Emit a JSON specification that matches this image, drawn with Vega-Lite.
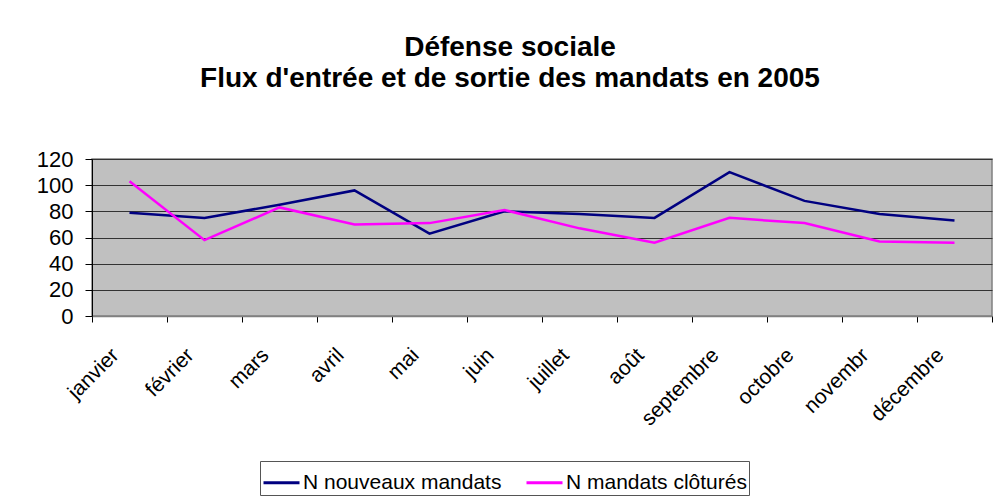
{
  "$schema": "https://vega.github.io/schema/vega-lite/v6.json",
  "width": 900,
  "height": 157,
  "autosize": {"type": "none"},
  "padding": {"left": 92, "top": 159, "right": 10, "bottom": 182},
  "background": "white",
  "title": {
    "text": ["Défense sociale", "Flux d'entrée et de sortie des mandats en 2005"],
    "font": "Liberation Sans",
    "fontSize": 28,
    "fontWeight": "bold",
    "color": "black",
    "lineHeight": 31,
    "anchor": "middle",
    "dx": -32,
    "offset": 55
  },
  "data": {
    "values": [
      {"mois": "janvier", "serie": "N nouveaux mandats", "n": 79},
      {"mois": "février", "serie": "N nouveaux mandats", "n": 75},
      {"mois": "mars", "serie": "N nouveaux mandats", "n": 85},
      {"mois": "avril", "serie": "N nouveaux mandats", "n": 96},
      {"mois": "mai", "serie": "N nouveaux mandats", "n": 63},
      {"mois": "juin", "serie": "N nouveaux mandats", "n": 80},
      {"mois": "juillet", "serie": "N nouveaux mandats", "n": 78},
      {"mois": "août", "serie": "N nouveaux mandats", "n": 75},
      {"mois": "septembre", "serie": "N nouveaux mandats", "n": 110},
      {"mois": "octobre", "serie": "N nouveaux mandats", "n": 88},
      {"mois": "novembr", "serie": "N nouveaux mandats", "n": 78},
      {"mois": "décembre", "serie": "N nouveaux mandats", "n": 73},
      {"mois": "janvier", "serie": "N mandats clôturés", "n": 103},
      {"mois": "février", "serie": "N mandats clôturés", "n": 58},
      {"mois": "mars", "serie": "N mandats clôturés", "n": 83},
      {"mois": "avril", "serie": "N mandats clôturés", "n": 70},
      {"mois": "mai", "serie": "N mandats clôturés", "n": 71},
      {"mois": "juin", "serie": "N mandats clôturés", "n": 81},
      {"mois": "juillet", "serie": "N mandats clôturés", "n": 67},
      {"mois": "août", "serie": "N mandats clôturés", "n": 56},
      {"mois": "septembre", "serie": "N mandats clôturés", "n": 75},
      {"mois": "octobre", "serie": "N mandats clôturés", "n": 71},
      {"mois": "novembr", "serie": "N mandats clôturés", "n": 57},
      {"mois": "décembre", "serie": "N mandats clôturés", "n": 56}
    ]
  },
  "mark": {"type": "line", "strokeWidth": 2.5},
  "encoding": {
    "x": {
      "field": "mois",
      "type": "ordinal",
      "sort": null,
      "bandPosition": 0.5,
      "scale": {"type": "band", "paddingInner": 0, "paddingOuter": 0},
      "axis": {
        "title": null,
        "tickBand": "extent",
        "labelAngle": -45,
        "labelFont": "Liberation Sans",
        "labelFontSize": 21,
        "labelColor": "black",
        "labelPadding": 22,
        "labelOffset": -22,
        "tickColor": "black",
        "tickSize": 6,
        "domainColor": "#808080",
        "domainWidth": 1.5,
        "grid": false
      }
    },
    "y": {
      "field": "n",
      "type": "quantitative",
      "scale": {"domain": [0, 120], "nice": false},
      "axis": {
        "title": null,
        "values": [0, 20, 40, 60, 80, 100, 120],
        "labelFont": "Liberation Sans",
        "labelFontSize": 22,
        "labelColor": "black",
        "labelPadding": 12,
        "tickColor": "black",
        "tickSize": 7,
        "domainColor": "black",
        "grid": true,
        "gridColor": "#333333",
        "gridWidth": 1,
        "gridOpacity": 1
      }
    },
    "color": {
      "field": "serie",
      "type": "nominal",
      "sort": ["N nouveaux mandats", "N mandats clôturés"],
      "scale": {"domain": ["N nouveaux mandats", "N mandats clôturés"], "range": ["#000080", "#FF00FF"]},
      "legend": {
        "title": null,
        "orient": "none",
        "direction": "horizontal",
        "legendX": 168,
        "legendY": 302,
        "symbolType": "stroke",
        "symbolSize": 1296,
        "symbolStrokeWidth": 3,
        "labelFont": "Liberation Sans",
        "labelFontSize": 21,
        "labelColor": "black",
        "labelLimit": 0,
        "labelOffset": 2,
        "columnPadding": 18,
        "strokeColor": "#555555",
        "fillColor": "white",
        "padding": 2
      }
    }
  },
  "config": {
    "view": {"fill": "#C0C0C0", "stroke": "#808080", "strokeWidth": 1.5}
  }
}
